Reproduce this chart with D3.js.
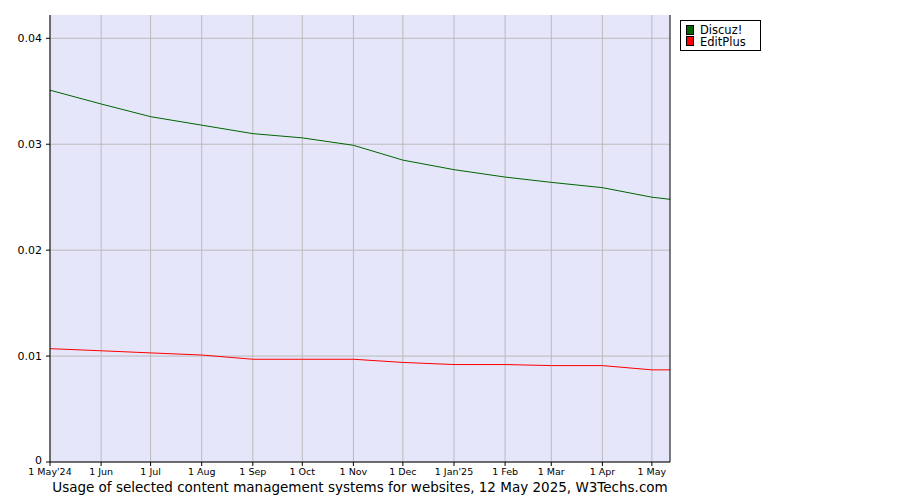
<!DOCTYPE html><html><head><meta charset="utf-8"><script src="https://cdn.jsdelivr.net/npm/d3@7"></script>
<style>body{margin:0;background:#fff}text{font-family:"DejaVu Sans",Verdana,sans-serif}</style></head><body><svg id="c" width="900" height="500"></svg><script>
const dates=["2024-05-01","2024-06-01","2024-07-01","2024-08-01","2024-09-01","2024-10-01","2024-11-01","2024-12-01","2025-01-01","2025-02-01","2025-03-01","2025-04-01","2025-05-01","2025-05-12"];
const discuz=[0.0351,0.0338,0.0326,0.0318,0.0310,0.0306,0.0299,0.0285,0.0276,0.0269,0.0264,0.0259,0.0250,0.0248];
const editplus=[0.0107,0.0105,0.0103,0.0101,0.0097,0.0097,0.0097,0.0094,0.0092,0.0092,0.0091,0.0091,0.0087,0.0087];
const tickDates=dates.slice(0,13);
const tickLabels=["1 May'24","1 Jun","1 Jul","1 Aug","1 Sep","1 Oct","1 Nov","1 Dec","1 Jan'25","1 Feb","1 Mar","1 Apr","1 May"];
const yTicks=[0,0.01,0.02,0.03,0.04];
const series=[{name:"Discuz!",vals:discuz,color:"#006400"},{name:"EditPlus",vals:editplus,color:"#ff0000"}];
const p=d3.timeParse("%Y-%m-%d");
const svg=d3.select("#c");
const L=50,R=670,T=15,B=462;
const x=d3.scaleTime().domain([p(dates[0]),p(dates[dates.length-1])]).range([L,R]);
const y=d3.scaleLinear().domain([0,0.0422]).range([B,T]);
svg.append("rect").attr("x",L).attr("y",T).attr("width",R-L).attr("height",B-T).attr("fill","#e6e6fa");
tickDates.forEach(d=>svg.append("line").attr("x1",x(p(d))).attr("x2",x(p(d))).attr("y1",T).attr("y2",B).attr("stroke","#bbb"));
yTicks.forEach(v=>svg.append("line").attr("x1",L).attr("x2",R).attr("y1",y(v)).attr("y2",y(v)).attr("stroke","#bbb"));
const ln=d3.line().x((d,i)=>x(p(dates[i]))).y(d=>y(d));
series.forEach(s=>svg.append("path").attr("d",ln(s.vals)).attr("fill","none").attr("stroke",s.color).attr("stroke-width",1));
svg.append("line").attr("x1",L).attr("x2",L).attr("y1",T).attr("y2",B).attr("stroke","#000");
svg.append("line").attr("x1",L).attr("x2",R).attr("y1",B).attr("y2",B).attr("stroke","#000");
svg.append("line").attr("x1",R).attr("x2",R).attr("y1",T).attr("y2",B).attr("stroke","#000");
yTicks.forEach(v=>{svg.append("line").attr("x1",L-4).attr("x2",L).attr("y1",y(v)).attr("y2",y(v)).attr("stroke","#000");
svg.append("text").attr("x",L-8).attr("y",y(v)+(v===0?2:4)).attr("text-anchor","end").attr("font-size",11).text(v===0?"0":v.toFixed(2));});
tickDates.forEach((d,i)=>{svg.append("line").attr("x1",x(p(d))).attr("x2",x(p(d))).attr("y1",B).attr("y2",B+4).attr("stroke","#000");
svg.append("text").attr("x",x(p(d))).attr("y",B+13).attr("text-anchor","middle").attr("font-size",9.5).text(tickLabels[i]);});
svg.append("text").attr("x",360).attr("y",492).attr("text-anchor","middle").attr("font-size",13.5).text("Usage of selected content management systems for websites, 12 May 2025, W3Techs.com");
svg.append("rect").attr("x",680.5).attr("y",20.5).attr("width",80).attr("height",30).attr("fill","#fff").attr("stroke","#000");
series.forEach((s,i)=>{svg.append("rect").attr("x",686.5).attr("y",25.5+i*11).attr("width",7).attr("height",9).attr("fill",s.color).attr("stroke","#000");
svg.append("text").attr("x",700).attr("y",34+i*11.5).attr("font-size",11.5).text(s.name);});
</script></body></html>
